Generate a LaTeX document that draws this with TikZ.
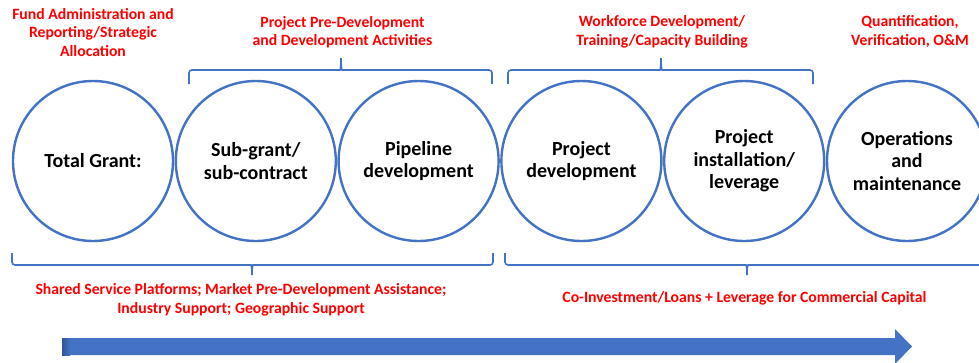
\documentclass[tikz,border=0pt]{standalone}
\usepackage{fontspec}
\setmainfont{Carlito}
\definecolor{stepblue}{HTML}{4472C4}
\definecolor{notered}{HTML}{FF0000}

\tikzset{
  stage/.style={circle, draw=stepblue, line width=2.4pt, minimum size=160pt,
    inner sep=0pt, align=center, text=black,
    font=\bfseries\fontsize{20}{22.5}\selectfont},
  note/.style={align=center, text=notered, inner sep=0pt,
    font=\bfseries\fontsize{15.7}{18.5}\selectfont},
  bracket/.style={draw=stepblue, line width=1.6pt, rounded corners=3pt},
  flow/.style={fill=stepblue, draw=none},
}

\begin{document}
\begin{tikzpicture}[x=1pt, y=-1pt]
  \clip (0,0) rectangle (979,362);
  \fill[white] (0,0) rectangle (979,362);

  % stages of the funding chain
  \node[stage] (c1) at (93,161)    {Total Grant:};
  \node[stage] (c2) at (255.8,161) {Sub-grant/\\sub-contract};
  \node[stage] (c3) at (418.6,161) {Pipeline\\development};
  \node[stage] (c4) at (581.4,161) {Project\\development};
  \node[stage] (c5) at (744.2,161) {Project\\installation/\\leverage};
  \node[stage] (c6) at (907,161)   {Operations\\and\\maintenance};

  % headings above the stages
  \node[note] (n1) at (93,32.5)    {Fund Administration and\\Reporting/Strategic\\Allocation};
  \node[note] (n2) at (342.5,32) {Project Pre-Development\\and Development Activities};
  \node[note] (n3) at (662,32) {Workforce Development/\\Training/Capacity Building};
  \node[note] (n4) at (910,31.5)   {Quantification,\\Verification, O\&M};

  % headings below the stages
  \node[note] (n5) at (241,300) {Shared Service Platforms; Market Pre-Development Assistance;\\Industry Support; Geographic Support};
  \node[note] (n6) at (744.5,298) {Co-Investment/Loans + Leverage for Commercial Capital};

  % upper brackets
  \draw[bracket] (189,84) -- (189,70) -- (337,70)
    .. controls (340,70) and (341,68) .. (341,56)
    .. controls (341,68) and (342,70) .. (345,70) -- (492,70) -- (492,84);
  \draw[bracket] (508,84) -- (508,70) -- (657,70)
    .. controls (660,70) and (661,68) .. (661,56)
    .. controls (661,68) and (662,70) .. (665,70) -- (813,70) -- (813,84);

  % lower brackets
  \draw[bracket] (12,253) -- (12,265) -- (248,265)
    .. controls (251,265) and (252,267) .. (252,277)
    .. controls (252,267) and (253,265) .. (256,265) -- (493,265) -- (493,253);
  \draw[bracket] (505,253) -- (505,265) -- (743,265)
    .. controls (746,265) and (747,267) .. (747,277)
    .. controls (747,267) and (748,265) .. (751,265) -- (989,265) -- (989,253);

  % progress arrow
  \fill[flow] (62,338) -- (895,338) -- (895,329) -- (912,346.5)
    -- (895,364) -- (895,355) -- (62,355) -- cycle;
  \shade[left color=stepblue!75!black, right color=stepblue]
    (62,338) rectangle (70,355);
\end{tikzpicture}
\end{document}
